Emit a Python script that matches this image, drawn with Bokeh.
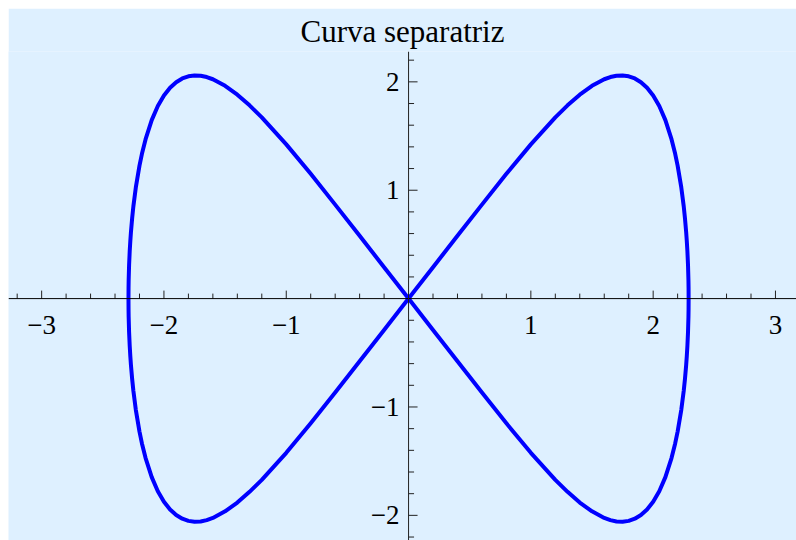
import numpy as np
from bokeh.plotting import figure
from bokeh.models import Span, Range1d
from bokeh.core.properties import value
from bokeh.embed import file_html
from bokeh.resources import INLINE

# Upper-right quarter of the separatrix (the other quarters follow by symmetry)
quarter_x = [0, 0.2, 0.4, 0.6, 0.8, 1.0, 1.2, 1.3, 1.4, 1.5, 1.6, 1.65, 1.7, 1.75,
             1.8, 1.85, 1.9, 1.95, 2.0, 2.05, 2.1, 2.15, 2.18, 2.2, 2.23, 2.25,
             2.26, 2.27, 2.275, 2.28, 2.285, 2.2885, 2.2895, 2.29]
quarter_y = [0, 0.290, 0.579, 0.867, 1.151, 1.423, 1.672, 1.783, 1.882, 1.963,
             2.024, 2.044, 2.056, 2.059, 2.051, 2.031, 1.997, 1.946, 1.874, 1.777,
             1.647, 1.471, 1.336, 1.227, 1.026, 0.851, 0.742, 0.611, 0.531, 0.435,
             0.309, 0.169, 0.097, 0.0]

x_major = [-3, -2, -1, 1, 2, 3]
x_labels = ["\u22123", "\u22122", "\u22121", "1", "2", "3"]
y_major = [-2, -1, 1, 2]
y_labels = ["\u22122", "\u22121", "1", "2"]

TITLE = "Curva separatriz"
BG = "#DEF0FF"
FONT = "Liberation Serif"

qx = np.array(quarter_x)
qy = np.array(quarter_y)
# right lobe: up and round, back through the lower half; then the left lobe
curve_x = np.concatenate([qx, qx[::-1], -qx, -qx[::-1]])
curve_y = np.concatenate([qy, -qy[::-1], qy, -qy[::-1]])

x_minor = [v for v in np.round(np.arange(-3.2, 3.21, 0.2), 1) if abs(v - round(v)) > 1e-6]
y_minor = [v for v in np.round(np.arange(-2.2, 2.21, 0.2), 1) if abs(v - round(v)) > 1e-6]

p = figure(width=788, height=532, output_backend="svg", toolbar_location=None,
           x_range=Range1d(-3.271, 3.172), y_range=Range1d(-2.232, 2.280),
           x_axis_type=None, y_axis_type=None,
           min_border_left=0, min_border_right=0, min_border_bottom=0, min_border_top=42)
p.margin = (8, 0, 0, 8)
p.background_fill_color = BG
p.border_fill_color = BG
p.outline_line_color = None
p.grid.visible = False

p.title.text = TITLE
p.title.align = "center"
p.title.offset = 6
p.title.text_font = FONT
p.title.text_font_size = "31px"
p.title.text_font_style = "normal"
p.title.text_color = "black"
p.title.standoff = 6

# axes through the origin
p.add_layout(Span(location=0, dimension="width", line_color="black", line_width=1))
p.add_layout(Span(location=0, dimension="height", line_color="#222222", line_width=1))

# x ticks point up, y ticks point right
p.ray(x=x_major, y=[0] * len(x_major), length=8, angle=np.pi / 2,
      length_units="screen", line_color="#222222", line_width=1)
p.ray(x=x_minor, y=[0] * len(x_minor), length=5, angle=np.pi / 2,
      length_units="screen", line_color="#222222", line_width=1)
p.ray(x=[0] * len(y_major), y=y_major, length=9, angle=0,
      length_units="screen", line_color="#222222", line_width=1)
p.ray(x=[0] * len(y_minor), y=y_minor, length=5.5, angle=0,
      length_units="screen", line_color="#222222", line_width=1)

p.text(x=x_major, y=[0] * len(x_major), text=x_labels, y_offset=26,
       text_align="center", text_baseline="alphabetic",
       text_font=value(FONT), text_font_size="27px", text_color="black")
p.text(x=[0] * len(y_major), y=y_major, text=y_labels, x_offset=-9,
       text_align="right", text_baseline="middle",
       text_font=value(FONT), text_font_size="27px", text_color="black")

p.line(curve_x, curve_y, line_color="#0000FF", line_width=4, line_join="round")

open("out.html", "w").write(file_html(p, INLINE))
